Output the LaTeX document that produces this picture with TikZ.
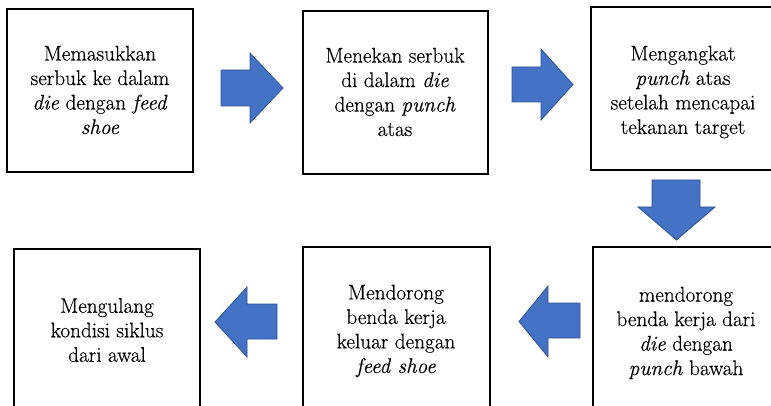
\documentclass[tikz,border=0pt]{standalone}
\usepackage{fontspec}
\setmainfont{Latin Modern Roman}[UprightFeatures={FakeBold=0.4},ItalicFeatures={FakeBold=0.4}]
\begin{document}
\begin{tikzpicture}[x=1pt,y=-1pt,
  stepbox/.style={draw=black,line width=1.6pt,fill=none},
  steptext/.style={align=center,font=\fontsize{21.2}{24.5}\selectfont,inner sep=0pt},
  blockarrow/.style={fill=arrowfill,draw=arrowline,line width=0.8pt,line join=miter}]
\definecolor{arrowfill}{HTML}{4472C4}
\definecolor{arrowline}{HTML}{2F528F}
\useasboundingbox (0,0) rectangle (771,406);
\clip (0,0) rectangle (771,406);

% process boxes (left, top) rectangle (right, bottom)
\draw[stepbox] (7,9) rectangle (193,172) coordinate (b1);
\draw[stepbox] (303,11) rectangle (488,174) coordinate (b2);
\draw[stepbox] (591,7) rectangle (777,170) coordinate (b3);
\draw[stepbox] (593,247) rectangle (779,420) coordinate (b4);
\draw[stepbox] (303,247) rectangle (490,420) coordinate (b5);
\draw[stepbox] (14,249) rectangle (200,420) coordinate (b6);

% step descriptions
\node[steptext] (t1) at (100,90) {Memasukkan\\serbuk ke dalam\\\textit{die} dengan \textit{feed}\\\textit{shoe}};
\node[steptext] (t2) at (395,92) {Menekan serbuk\\di dalam \textit{die}\\dengan \textit{punch}\\atas};
\node[steptext] (t3) at (683,92) {Mengangkat\\\textit{punch} atas\\setelah mencapai\\tekanan target};
\node[steptext] (t4) at (686,333) {mendorong\\benda kerja dari\\\textit{die} dengan\\\textit{punch} bawah};
\node[steptext] (t5) at (396,331) {Mendorong\\benda kerja\\keluar dengan\\\textit{feed shoe}};
\node[steptext] (t6) at (107,330) {Mengulang\\kondisi siklus\\dari awal};

% block arrows between the steps
\draw[blockarrow] (221,70) -- (250,70) -- (250,53) -- (283,88) -- (250,123) -- (250,106) -- (221,106) -- cycle;
\draw[blockarrow] (512,67) -- (541,67) -- (541,49) -- (573,84.5) -- (541,120) -- (541,102) -- (512,102) -- cycle;
\draw[blockarrow] (652,180) -- (700,180) -- (700,207) -- (715,207) -- (676.5,240) -- (638,207) -- (652,207) -- cycle;
\draw[blockarrow] (580,303) -- (548,303) -- (548,286) -- (519,321.5) -- (548,357) -- (548,338) -- (580,338) -- cycle;
\draw[blockarrow] (277,304) -- (247,304) -- (247,287) -- (215,322) -- (247,357) -- (247,339) -- (277,339) -- cycle;
\end{tikzpicture}
\end{document}
